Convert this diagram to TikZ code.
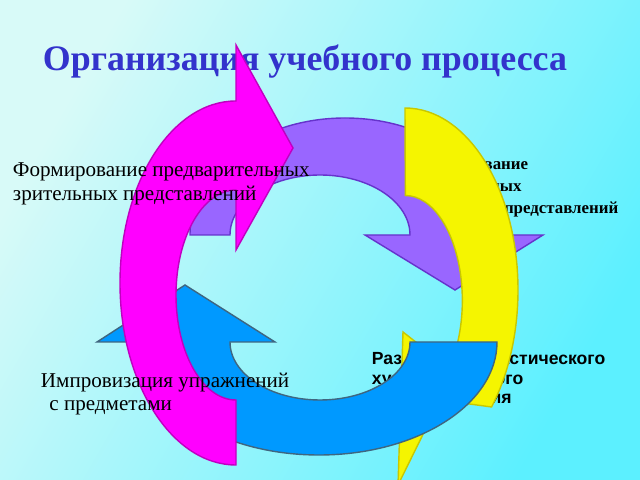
\documentclass[tikz,border=0pt]{standalone}
\usepackage{fontspec}
\setmainfont{Liberation Serif}
\setsansfont{Liberation Sans}
\definecolor{bgleft}{HTML}{D8FAF8}
\definecolor{bgright}{HTML}{5CF0FF}
\definecolor{titleblue}{HTML}{3333CC}
\definecolor{purplefill}{HTML}{9966FF}
\definecolor{purpleline}{HTML}{6633CC}
\definecolor{yellowfill}{HTML}{F5F500}
\definecolor{yellowline}{HTML}{C8C800}
\definecolor{bluefill}{HTML}{0099FF}
\definecolor{blueline}{HTML}{3F6680}
\definecolor{magentafill}{HTML}{FF00FF}
\definecolor{magentaline}{HTML}{C000C0}

\begin{document}
\begin{tikzpicture}[x=0.025cm,y=0.025cm,
  lefttext/.style={anchor=west,align=left,font=\fontsize{15}{17}\selectfont},
  righttext/.style={anchor=west,align=left,font=\bfseries\fontsize{12}{15.5}\selectfont},
  arrowband/.style={line width=1pt}]

% --- Sfondo ---
\shade[left color=bgleft,right color=bgright,shading angle=60] (0,0) rectangle (640,480);
\useasboundingbox (0,0) rectangle (640,480);

% --- Titolo ---
\node[font=\bfseries\fontsize{25.5}{28}\selectfont,text=titleblue] (title) at (305,418) {Организация учебного процесса};

% --- Etichette (dietro le frecce) ---
\node[righttext] (motor) at (408,292) {Формирование\\двигательных\\мышечных представлений};
\node[righttext,font=\sffamily\bfseries\fontsize{12.5}{14}\selectfont] (develop) at (367,100) {Развитие гимнастического\\художественного\\моделирования};

% --- Frecce ---
\filldraw[arrowband,fill=purplefill,draw=purpleline]
  (190,245) arc[start angle=180,end angle=0,x radius=155,y radius=117]
  -- (543,245) -- (455,190) -- (365,245) -- (410,245)
  arc[start angle=0,end angle=180,x radius=90,y radius=60] -- cycle;

\filldraw[arrowband,fill=yellowfill,draw=yellowline]
  (405,372) arc[start angle=90,end angle=-40,x radius=113,y radius=182]
  -- (440,80) -- (398,-5) -- (403,148) -- (449,112)
  arc[start angle=-40,end angle=90,x radius=57,y radius=105] -- cycle;

\filldraw[arrowband,fill=bluefill,draw=blueline]
  (497,138) arc[start angle=0,end angle=-180,x radius=178,y radius=113]
  -- (97,138) -- (185,195) -- (275,138) -- (230,138)
  arc[start angle=180,end angle=360,x radius=90,y radius=58] -- cycle;

\filldraw[arrowband,fill=magentafill,draw=magentaline]
  (236,15) arc[start angle=-90,end angle=-270,x radius=116,y radius=182]
  -- (236,435) -- (293,332) -- (236,230) -- (236,290)
  arc[start angle=90,end angle=270,x radius=60,y radius=105] -- cycle;

% --- Etichette (sopra le frecce) ---
\node[lefttext] (visual) at (8,296) {Формирование предварительных\\зрительных представлений};
\node[lefttext] (improv) at (36,86) {Импровизация упражнений\\\hspace*{0.4em}с предметами};

\end{tikzpicture}
\end{document}
